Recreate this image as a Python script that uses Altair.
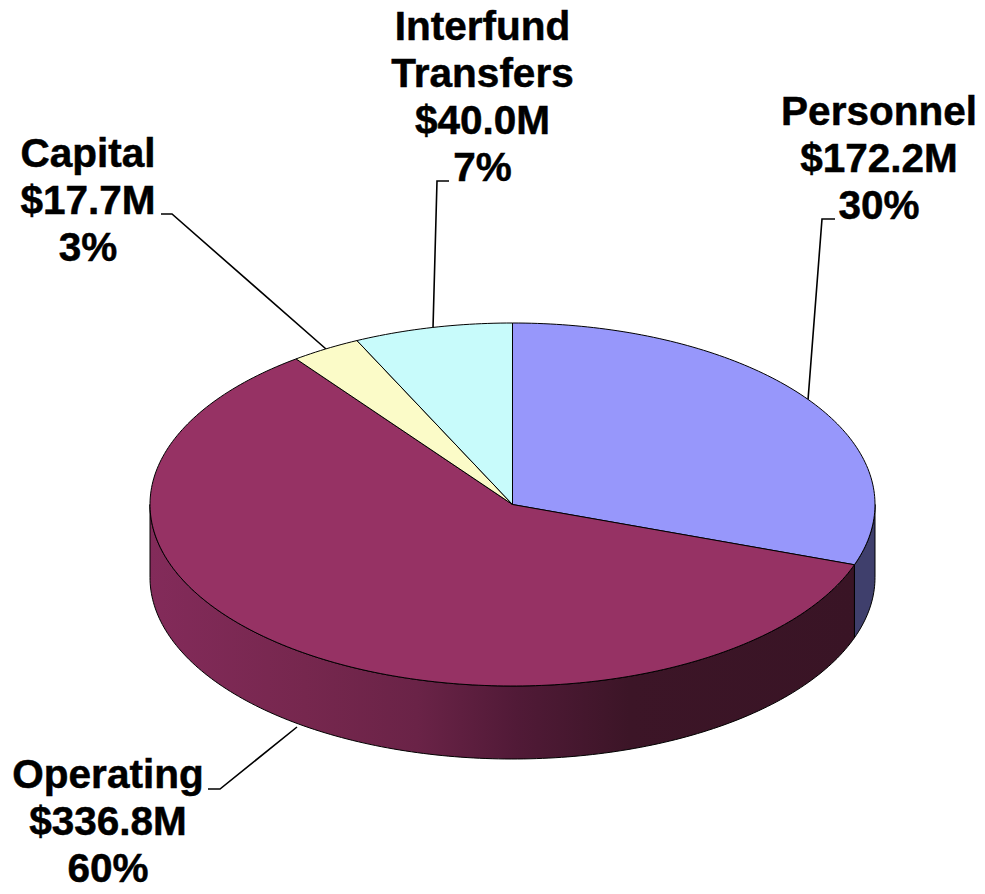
import math
import altair as alt

# --- data ---
categories = ["Personnel", "Operating", "Capital", "Interfund Transfers"]
amounts = [172.2, 336.8, 17.7, 40.0]
percents = [30, 60, 3, 7]
top_colors = ["#9797fb", "#963264", "#fbfbc8", "#c8fbfb"]

# --- layout of the drawing ---
OFF = 8
CX, CY, RX, RY, DEPTH = 512.5 - OFF, 503.5 - OFF, 362.5, 181.5, 73
FONT = "Liberation Sans"
FS = 40.5

label_layout = {
    "Personnel": (879, [124, 171, 218]),
    "Operating": (108, [787, 834, 881]),
    "Capital": (88, [166, 213, 260]),
    "Interfund Transfers": (482.5, [39, 86, 133, 180]),
}
leader_paths = {
    "Personnel": [(835, 218), (822, 218), (808, 399)],
    "Operating": [(208, 788), (220, 788), (297, 726)],
    "Capital": [(161, 213), (172, 213), (326, 348)],
    "Interfund Transfers": [(449, 180), (437, 180), (433, 327)],
}


def pt(deg, dy=0.0):
    a = math.radians(deg)
    return [CX + RX * math.sin(a), CY - RY * math.cos(a) + dy]


def arc(a0, a1, dy=0.0):
    n = max(2, int(abs(a1 - a0)) + 1)
    return [pt(a0 + (a1 - a0) * i / n, dy) for i in range(n + 1)]


def feature(ring, **props):
    return {"type": "Feature", "properties": props,
            "geometry": {"type": "Polygon", "coordinates": [ring + [ring[0]]]}}


def side(a0, a1):
    return arc(a0, a1) + arc(a1, a0, DEPTH)


def project(c):
    return c.project(type="identity", scale=1, translate=[0, 0])


total = sum(amounts)
edges = [0.0]
for v in amounts:
    edges.append(edges[-1] + 360.0 * v / total)

top = [feature([[CX, CY]] + arc(edges[i], edges[i + 1]), fill=top_colors[i])
       for i in range(len(amounts))]

personnel_side = project(alt.Chart(alt.Data(values=[feature(side(90, edges[1]), fill="#3f3f6c")])).mark_geoshape(
    stroke="#000000", strokeWidth=1
).encode(fill=alt.Fill("properties.fill:N", scale=None)))

gradient = alt.LinearGradient(
    gradient="linear", x1=0, x2=1, y1=0, y2=0,
    stops=[
        alt.GradientStop(offset=0.0, color="#832b5a"),
        alt.GradientStop(offset=0.22, color="#76274e"),
        alt.GradientStop(offset=0.38, color="#6a2347"),
        alt.GradientStop(offset=0.52, color="#511a37"),
        alt.GradientStop(offset=0.68, color="#3c1527"),
        alt.GradientStop(offset=1.0, color="#391425"),
    ],
)
operating_side = project(alt.Chart(alt.Data(values=[feature(side(edges[1], 270))])).mark_geoshape(
    fill=gradient, stroke="#000000", strokeWidth=1
))

top_layer = project(alt.Chart(alt.Data(values=top)).mark_geoshape(
    stroke="#000000", strokeWidth=1
).encode(fill=alt.Fill("properties.fill:N", scale=None)))

leaders = [{"type": "Feature", "properties": {"name": k},
            "geometry": {"type": "LineString",
                         "coordinates": [[x - OFF, y - OFF] for x, y in p]}}
           for k, p in leader_paths.items()]
leader_layer = project(alt.Chart(alt.Data(values=leaders)).mark_geoshape(
    filled=False, stroke="#000000", strokeWidth=1.6
))

rows = []
for name, amt, pct in zip(categories, amounts, percents):
    lines = name.split(" ") + [f"${amt:.1f}M", f"{pct}%"]
    cx, baselines = label_layout[name]
    for line, b in zip(lines, baselines):
        rows.append({"t": line, "x": cx - OFF, "y": b - OFF})

text_layer = alt.Chart(alt.Data(values=rows)).mark_text(
    font=FONT, fontSize=FS, fontWeight="bold", color="#000000",
    stroke="#000000", strokeWidth=0.5,
    align="center", baseline="alphabetic"
).encode(
    x=alt.X("x:Q", scale=None, axis=None),
    y=alt.Y("y:Q", scale=None, axis=None),
    text="t:N",
)

chart = alt.layer(
    leader_layer, personnel_side, operating_side, top_layer, text_layer
).properties(
    width=965, height=875, padding=0, background="white"
).configure_view(stroke=None)

chart.save("out.html", embed_options={"renderer": "svg", "actions": False})
